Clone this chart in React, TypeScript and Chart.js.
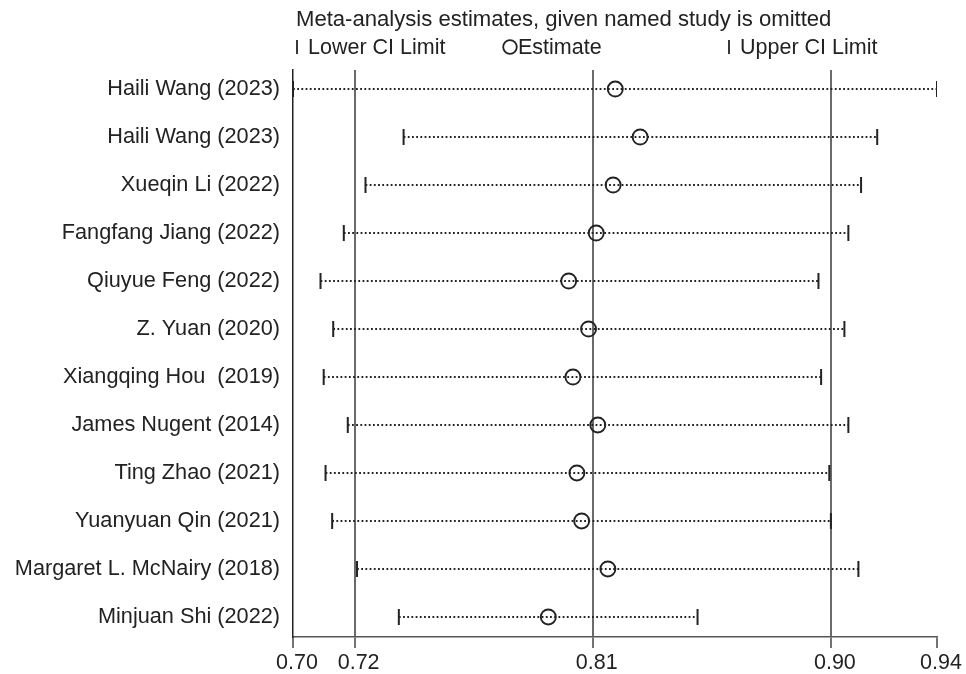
import React, { useEffect, useRef } from "react";
import { Chart, registerables } from "chart.js";

Chart.register(...registerables);

// Influence analysis: pooled estimate recomputed with each study left out
const studies = [
  "Haili Wang (2023)",
  "Haili Wang (2023)",
  "Xueqin Li (2022)",
  "Fangfang Jiang (2022)",
  "Qiuyue Feng (2022)",
  "Z. Yuan (2020)",
  "Xiangqing Hou  (2019)",
  "James Nugent (2014)",
  "Ting Zhao (2021)",
  "Yuanyuan Qin (2021)",
  "Margaret L. McNairy (2018)",
  "Minjuan Shi (2022)",
];

const lowerCI = [0.6967, 0.7385, 0.7241, 0.7159, 0.7071, 0.7119, 0.7083, 0.7174, 0.709, 0.7115, 0.7209, 0.7367];
const estimates = [0.8185, 0.8279, 0.8177, 0.8113, 0.8009, 0.8084, 0.8025, 0.8119, 0.804, 0.8058, 0.8157, 0.7932];
const upperCI = [0.9401, 0.9175, 0.9114, 0.9066, 0.8953, 0.9051, 0.8963, 0.9066, 0.8994, 0.9, 0.9104, 0.8496];

// Pooled result with all studies included (reference lines)
const pooledLower = 0.72;
const pooledEstimate = 0.81;
const pooledUpper = 0.9;

const axisMin = Math.min(...lowerCI);
const axisMax = Math.max(...upperCI);
const xTickValues = [axisMin, pooledLower, pooledEstimate, pooledUpper, axisMax];
const xTickLabels = ["0.70", "0.72", "0.81", "0.90", "0.94"];

const titleText = "Meta-analysis estimates, given named study is omitted";
const legendLabels = ["Lower CI Limit", "Estimate", "Upper CI Limit"];

const FONT = "'Liberation Sans', Arial, Helvetica, sans-serif";
const INK = "#222222";
const REF_GRAY = "#6a6a6a";

const near = (a: number, b: number) => Math.abs(a - b) < 1e-6;

const headerPlugin = {
  id: "metaHeader",
  afterDraw(chart: any) {
    const ctx = chart.ctx as CanvasRenderingContext2D;
    ctx.save();
    ctx.fillStyle = INK;
    ctx.strokeStyle = INK;
    ctx.textAlign = "left";
    ctx.textBaseline = "alphabetic";

    ctx.font = `22.1px ${FONT}`;
    ctx.fillText(titleText, 296, 26);

    ctx.font = `21.5px ${FONT}`;
    const base = 54;

    // lower limit key
    ctx.lineWidth = 1.8;
    ctx.beginPath();
    ctx.moveTo(297, 40);
    ctx.lineTo(297, 54);
    ctx.stroke();
    ctx.fillText(legendLabels[0], 308, base);

    // estimate key
    ctx.beginPath();
    ctx.arc(510, 47, 6.8, 0, Math.PI * 2);
    ctx.stroke();
    ctx.fillText(legendLabels[1], 518, base);

    // upper limit key
    ctx.beginPath();
    ctx.moveTo(729, 40);
    ctx.lineTo(729, 54);
    ctx.stroke();
    ctx.fillText(legendLabels[2], 740, base);

    ctx.restore();
  },
};

export default function App() {
  const canvasRef = useRef<HTMLCanvasElement | null>(null);

  useEffect(() => {
    if (!canvasRef.current) return;

    const ciLines = studies.map((name, i) => ({
      label: name,
      data: [
        { x: lowerCI[i], y: i + 1 },
        { x: upperCI[i], y: i + 1 },
      ],
      showLine: true,
      borderColor: INK,
      borderWidth: 1.8,
      borderDash: [1.8, 2.4],
      pointRadius: 0,
      order: 3,
    }));

    const chart = new Chart(canvasRef.current, {
      type: "scatter",
      data: {
        datasets: [
          {
            label: legendLabels[1],
            data: estimates.map((v, i) => ({ x: v, y: i + 1 })),
            pointStyle: "circle",
            pointRadius: 7.5,
            pointBorderWidth: 1.9,
            pointBorderColor: INK,
            pointBackgroundColor: "rgba(0,0,0,0)",
            order: 0,
          },
          {
            label: legendLabels[0],
            data: lowerCI.map((v, i) => ({ x: v, y: i + 1 })),
            pointStyle: "line",
            pointRotation: 90,
            pointRadius: 8,
            pointBorderWidth: 2,
            pointBorderColor: INK,
            order: 1,
          },
          {
            label: legendLabels[2],
            data: upperCI.map((v, i) => ({ x: v, y: i + 1 })),
            pointStyle: "line",
            pointRotation: 90,
            pointRadius: 8,
            pointBorderWidth: 2,
            pointBorderColor: INK,
            order: 1,
          },
          ...ciLines,
        ] as any,
      },
      options: {
        responsive: false,
        animation: false,
        events: [],
        layout: { padding: { top: 70, right: 29, bottom: 0, left: 0 } },
        plugins: {
          legend: { display: false },
          title: { display: false },
          tooltip: { enabled: false },
        },
        scales: {
          x: {
            type: "linear",
            min: axisMin,
            max: axisMax,
            afterFit: (scale: any) => {
              scale.height = 37;
            },
            afterBuildTicks: (scale: any) => {
              scale.ticks = xTickValues.map((v) => ({ value: v }));
            },
            ticks: {
              autoSkip: false,
              maxRotation: 0,
              padding: 2,
              labelOffset: 4,
              color: INK,
              font: { family: FONT, size: 21.5 },
              callback: (_v: any, index: number) => xTickLabels[index],
            },
            grid: {
              drawOnChartArea: true,
              drawTicks: true,
              tickLength: 11,
              tickWidth: 1.5,
              tickColor: "#444444",
              lineWidth: 2,
              color: (c: any) => {
                const v = c.tick ? c.tick.value : NaN;
                return near(v, pooledLower) || near(v, pooledEstimate) || near(v, pooledUpper)
                  ? REF_GRAY
                  : "rgba(0,0,0,0)";
              },
            },
            border: { display: true, color: "#555555", width: 1.5 },
          },
          y: {
            type: "linear",
            reverse: true,
            min: 0.604,
            max: 12.417,
            afterFit: (scale: any) => {
              scale.width = 293;
            },
            afterBuildTicks: (scale: any) => {
              scale.ticks = studies.map((_, i) => ({ value: i + 1 }));
            },
            ticks: {
              autoSkip: false,
              padding: 13,
              color: INK,
              font: { family: FONT, size: 21.7 },
              callback: (_v: any, index: number) => studies[index],
            },
            grid: { display: false, drawTicks: false },
            border: { display: true, color: "#222222", width: 1.5 },
          },
        },
      },
      plugins: [headerPlugin],
    } as any);

    return () => {
      chart.destroy();
    };
  }, []);

  return (
    <div
      style={{
        position: "absolute",
        left: 0,
        top: 0,
        width: 966,
        height: 674,
        background: "#ffffff",
      }}
    >
      <canvas ref={canvasRef} width={966} height={674} />
    </div>
  );
}
